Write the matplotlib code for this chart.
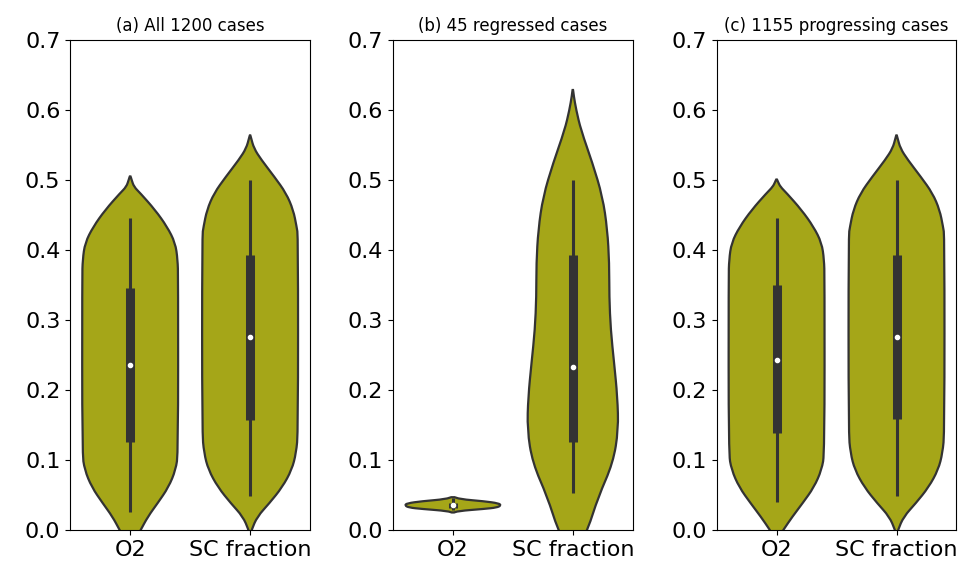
import numpy as np
import matplotlib
matplotlib.use("Agg")
import matplotlib.pyplot as plt
from matplotlib.path import Path
from matplotlib.patches import PathPatch

# violin colour and line colour
face = "#a5a618"
dark = "#333333"

categories = ["O2", "SC fraction"]
titles = ["(a) All 1200 cases", "(b) 45 regressed cases", "(c) 1155 progressing cases"]

# violin outlines: y level and half width (fraction of the widest point)
a_o2_y = [-0.035, -0.015, 0.0, 0.019, 0.038, 0.061, 0.086, 0.11, 0.36, 0.386, 0.41, 0.433, 0.457, 0.481, 0.49, 0.5, 0.507]
a_o2_w = [0.0, 0.1, 0.22, 0.37, 0.57, 0.8, 0.95, 1.0, 1.0, 0.99, 0.94, 0.77, 0.52, 0.21, 0.08, 0.03, 0.0]
a_sc_y = [-0.01, 0.0, 0.019, 0.038, 0.061, 0.086, 0.11, 0.14, 0.42, 0.433, 0.457, 0.481, 0.504, 0.529, 0.545, 0.56, 0.565]
a_sc_w = [0.0, 0.03, 0.15, 0.4, 0.67, 0.87, 0.96, 1.0, 1.0, 0.97, 0.9, 0.75, 0.51, 0.23, 0.08, 0.02, 0.0]

b_o2_y = [0.024, 0.027, 0.030, 0.032, 0.035, 0.038, 0.041, 0.044, 0.048]
b_o2_w = [0.0, 0.1, 0.65, 0.92, 1.0, 0.96, 0.65, 0.14, 0.0]
b_sc_y = [-0.05, -0.025, 0.0, 0.047, 0.096, 0.143, 0.19, 0.239, 0.286, 0.333, 0.381, 0.429, 0.476, 0.524, 0.571, 0.6, 0.62, 0.632]
b_sc_w = [0.0, 0.12, 0.31, 0.53, 0.84, 0.95, 0.93, 0.86, 0.79, 0.76, 0.76, 0.72, 0.62, 0.41, 0.17, 0.07, 0.02, 0.0]

c_o2_y = [-0.02, -0.008, 0.0, 0.019, 0.038, 0.061, 0.086, 0.11, 0.36, 0.386, 0.41, 0.433, 0.457, 0.481, 0.49, 0.497, 0.502]
c_o2_w = [0.0, 0.07, 0.14, 0.33, 0.54, 0.78, 0.94, 1.0, 1.0, 0.99, 0.94, 0.77, 0.52, 0.21, 0.08, 0.03, 0.0]
c_sc_y = a_sc_y
c_sc_w = a_sc_w

# box stats: whisker low, q1, median, q3, whisker high
a_box = [[0.025, 0.125, 0.235, 0.345, 0.445], [0.048, 0.157, 0.275, 0.393, 0.500]]
b_box = [[0.028, 0.031, 0.035, 0.039, 0.045], [0.053, 0.125, 0.232, 0.392, 0.500]]
c_box = [[0.040, 0.138, 0.243, 0.350, 0.445], [0.048, 0.158, 0.275, 0.393, 0.500]]

panels = [
    ([(a_o2_y, a_o2_w), (a_sc_y, a_sc_w)], a_box),
    ([(b_o2_y, b_o2_w), (b_sc_y, b_sc_w)], b_box),
    ([(c_o2_y, c_o2_w), (c_sc_y, c_sc_w)], c_box),
]


def smooth_outline(pts):
    # closed outline drawn as quadratic curves through the read points
    pts = np.asarray(pts)
    n = len(pts)
    verts = [(pts[0] + pts[-1]) / 2]
    codes = [Path.MOVETO]
    for k in range(n):
        p = pts[k]
        nxt = pts[(k + 1) % n]
        verts += [p, (p + nxt) / 2]
        codes += [Path.CURVE3, Path.CURVE3]
    return Path(verts, codes)


fig = plt.figure(figsize=(9.75, 5.68), dpi=100)
lefts = [0.072, 0.403, 0.735]

for i, (violins, boxes) in enumerate(panels):
    ax = fig.add_axes([lefts[i], 0.067, 0.246, 0.863])
    for pos, (ys, ws) in enumerate(violins):
        ys = np.array(ys)
        half = np.array(ws) * 0.4
        xs = np.concatenate([pos + half, (pos - half)[::-1][1:-1]])
        yy = np.concatenate([ys, ys[::-1][1:-1]])
        path = smooth_outline(np.column_stack([xs, yy]))
        ax.add_patch(PathPatch(path, facecolor=face, edgecolor=dark, linewidth=1.6, zorder=1))
        lo, q1, med, q3, hi = boxes[pos]
        ax.vlines(pos, lo, hi, color=dark, linewidth=2.2, zorder=2)
        ax.vlines(pos, q1, q3, color=dark, linewidth=6.5, zorder=3)
        ax.scatter([pos], [med], s=9, color="white", zorder=4)
    ax.set_xlim(-0.5, 1.5)
    ax.set_ylim(0, 0.7)
    ax.set_xticks([0, 1])
    ax.set_xticklabels(categories)
    ax.set_yticks(np.arange(0, 0.71, 0.1))
    ax.set_yticklabels(["%.1f" % v for v in np.arange(0, 0.71, 0.1)])
    ax.tick_params(labelsize=16)
    ax.set_title(titles[i], fontsize=12)

fig.savefig("out.png", dpi=100)
